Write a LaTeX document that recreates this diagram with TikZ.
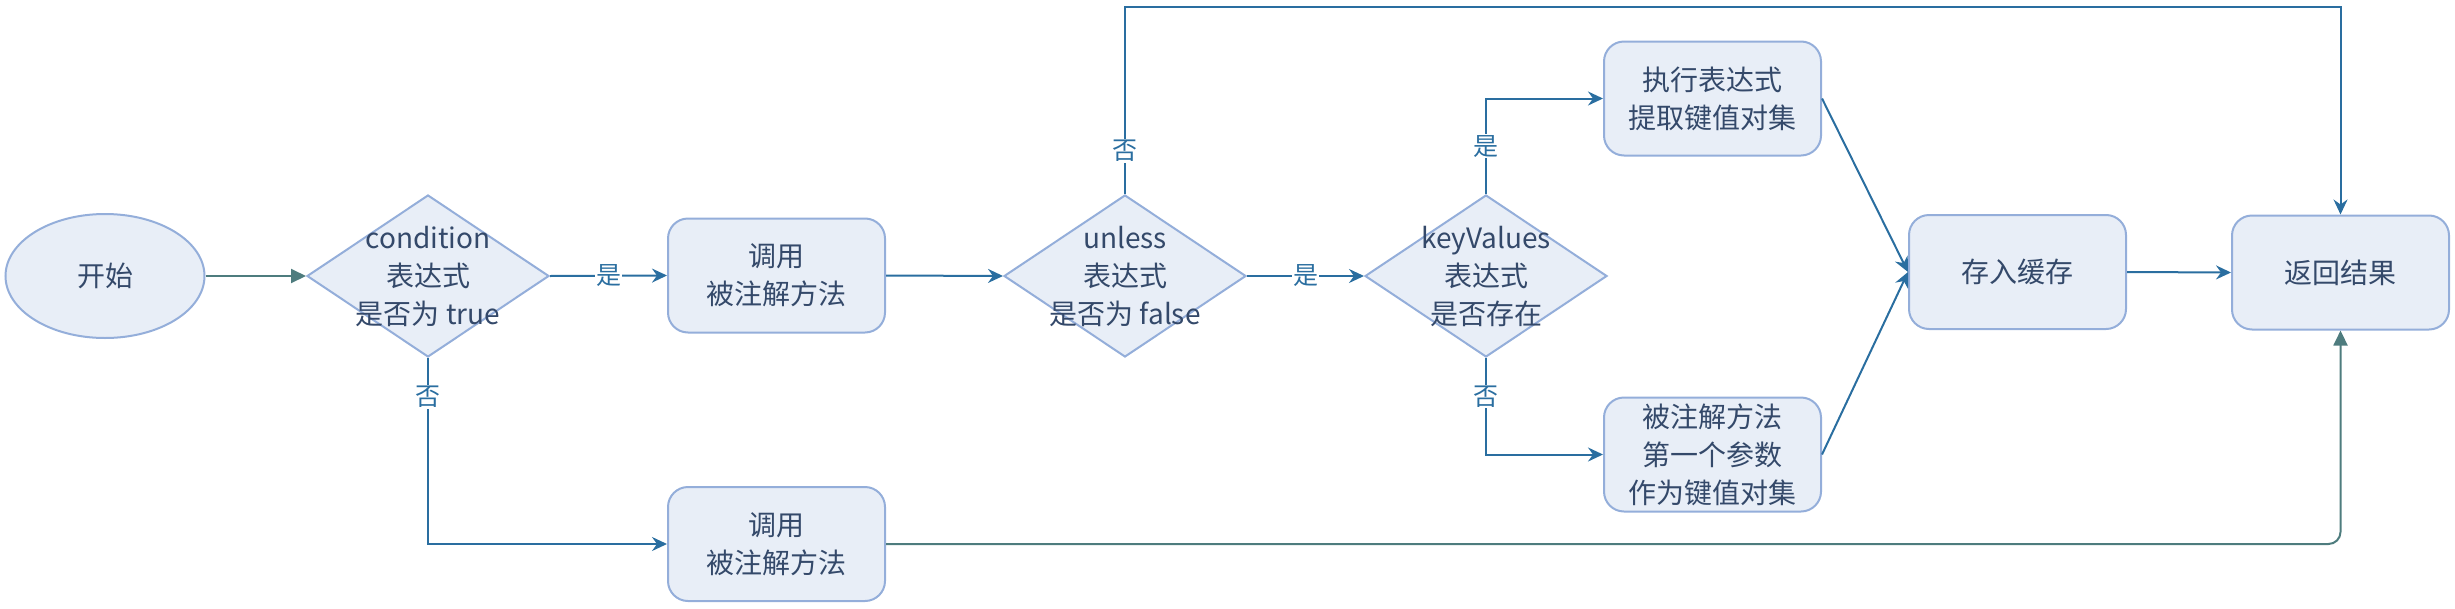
\documentclass[tikz,border=0pt]{standalone}
\usepackage{fontspec}
\setmainfont{Noto Sans CJK SC}
\usetikzlibrary{shapes.geometric,arrows.meta}
\definecolor{fillc}{HTML}{E8EEF7}
\definecolor{borderc}{HTML}{94AEDA}
\definecolor{textc}{HTML}{34496A}
\definecolor{linec}{HTML}{2A6EA0}
\definecolor{tealc}{HTML}{4E7C7E}
\begin{document}
\begin{tikzpicture}[x=1pt,y=-1pt,
 mainfont/.style={font=\fontsize{28pt}{38pt}\selectfont},
 box/.style={draw=borderc, line width=2pt, fill=fillc, rounded corners=20pt, minimum width=217pt, minimum height=114pt, inner sep=0pt, align=center, text=textc, mainfont},
 dia/.style={draw=borderc, line width=2pt, fill=fillc, diamond, minimum width=242pt, minimum height=162pt, inner sep=0pt},
 dtext/.style={align=center, text=textc, mainfont, inner sep=0pt},
 conn/.style={draw=linec, line width=2pt, -{Stealth[length=15pt,width=14pt,inset=5pt]}},
 tconn/.style={draw=tealc, line width=2pt, -{Triangle[length=15pt,width=14pt]}},
 lab/.style={fill=white, text=linec, font=\fontsize{25pt}{25pt}\selectfont, inner sep=1pt}
]
\useasboundingbox (0,0) rectangle (2455,608);
\node[ellipse, draw=borderc, line width=2pt, fill=fillc, minimum width=199pt, minimum height=124pt, inner sep=0pt, text=textc, mainfont] (start) at (105,276) {开始};
\node[dia] (d1) at (428,276) {};
\node[dtext] (d1t) at (d1) {condition\\表达式\\是否为 true};
\node[box] (b1) at (776.5,275.5) {调用\\被注解方法};
\node[dia] (d2) at (1125,276) {};
\node[dtext] (d2t) at (d2) {unless\\表达式\\是否为 false};
\node[dia] (d3) at (1486,276) {};
\node[dtext] (d3t) at (d3) {keyValues\\表达式\\是否存在};
\node[box] (b2) at (1712.5,98.5) {执行表达式\\提取键值对集};
\node[box] (b3) at (1712.5,454.5) {被注解方法\\第一个参数\\作为键值对集};
\node[box] (cache) at (2017.5,272) {存入缓存};
\node[box] (ret) at (2340.5,272.5) {返回结果};
\node[box] (b4) at (776.5,544) {调用\\被注解方法};
\coordinate (topy) at (0,7);

\draw[tconn] (start.east) -- (d1.west);
\draw[conn] (d1.east) -- node[lab]{是} (b1.west);
\draw[conn] (b1.east) -- (d2.west);
\draw[conn] (d2.east) -- node[lab]{是} (d3.west);
\draw[conn] (d3.north) |- node[lab,pos=0.25]{是} (b2.west);
\draw[conn] (d3.south) |- node[lab,pos=0.2]{否} (b3.west);
\draw[conn] (b2.east) -- (cache.west);
\draw[conn] (b3.east) -- (cache.west);
\draw[conn] (cache.east) -- (ret.west);
\draw[conn] (d2.north) -- node[lab,pos=0.23]{否} (d2.north |- topy) -| (ret.north);
\draw[conn] (d1.south) |- node[lab,pos=0.105]{否} (b4.west);
\draw[tconn, rounded corners=12pt] (b4.east) -| (ret.south);
\end{tikzpicture}
\end{document}
